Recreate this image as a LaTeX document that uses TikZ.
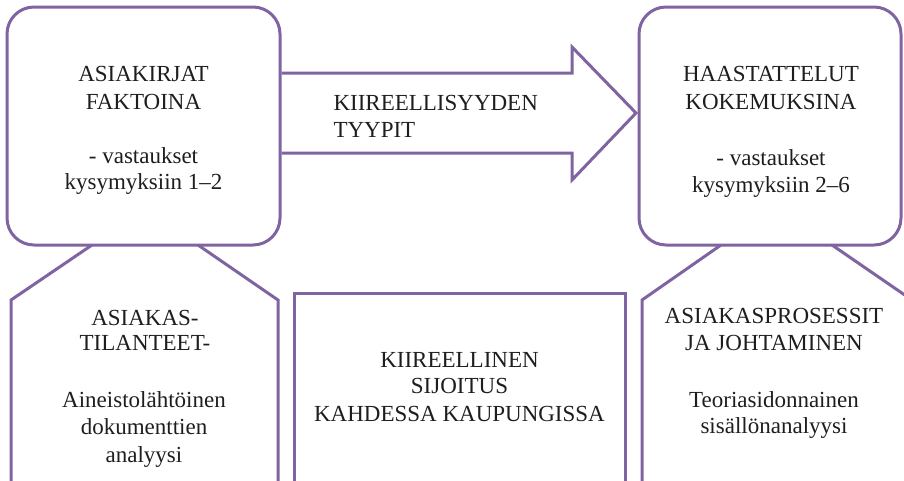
\documentclass[tikz,border=0pt]{standalone}
\usepackage{fontspec}
\setmainfont{Liberation Serif}
\definecolor{pur}{HTML}{8064A2}
\definecolor{ink}{HTML}{1E1E1E}
\begin{document}
\begin{tikzpicture}[x=1pt,y=-1pt,line width=3pt,
  roundbox/.style={draw=pur,fill=white,rounded corners=27pt,inner sep=0pt},
  plainbox/.style={draw=pur,inner sep=0pt},
  edge/.style={draw=pur,line join=miter},
  txt/.style={text=ink,font=\fontsize{23}{27}\selectfont,inner sep=0pt,anchor=base},
  txtl/.style={txt,anchor=base west}]
\useasboundingbox (0,0) rectangle (904,480);
% top boxes
\node[roundbox,minimum width=273pt,minimum height=238pt] (lbox) at (143.5,126) {};
\node[roundbox,minimum width=262pt,minimum height=238pt] (rbox) at (770,126) {};
% middle box (bottom outside the page)
\node[plainbox,minimum width=331pt,minimum height=210pt] (mbox) at (459.5,398) {};
% pentagon outlines under the top boxes
\coordinate (lp1) at (92,245);  \coordinate (lp2) at (11,300);  \coordinate (lp3) at (11,492);
\coordinate (lp4) at (198,245); \coordinate (lp5) at (278,300); \coordinate (lp6) at (278,492);
\coordinate (rp1) at (721,245); \coordinate (rp2) at (642,300); \coordinate (rp3) at (642,492);
\coordinate (rp4) at (832,245); \coordinate (rp5) at (912,300); \coordinate (rp6) at (912,492);
\draw[edge] (lp1) -- (lp2) -- (lp3);
\draw[edge] (lp4) -- (lp5) -- (lp6);
\draw[edge] (rp1) -- (rp2) -- (rp3);
\draw[edge] (rp4) -- (rp5) -- (rp6);
% block arrow
\coordinate (a0) at (lbox.east |- 0,73);
\coordinate (a1) at (572,73);
\coordinate (a2) at (572,47);
\coordinate (a3) at (636,113);
\coordinate (a4) at (572,180);
\coordinate (a5) at (572,153);
\coordinate (a6) at (lbox.east |- 0,153);
\draw[edge] (a0) -- (a1) -- (a2) -- (a3) -- (a4) -- (a5) -- (a6);
% texts: left box
\node[txt] (t1) at (143.5,81) {ASIAKIRJAT};
\node[txt] (t2) at (143.5,109) {FAKTOINA};
\node[txt] (t3) at (143.5,163) {- vastaukset};
\node[txt] (t4) at (143.5,189) {kysymyksiin 1–2};
% right box
\node[txt] (t5) at (771,81) {HAASTATTELUT};
\node[txt] (t6) at (771,109) {KOKEMUKSINA};
\node[txt] (t7) at (771,165) {- vastaukset};
\node[txt] (t8) at (771,192) {kysymyksiin 2–6};
% arrow text
\node[txtl] (t9) at (332,110) {KIIREELLISYYDEN};
\node[txtl] (t10) at (332,137) {TYYPIT};
% middle box
\node[txt] (t11) at (459.5,367) {KIIREELLINEN};
\node[txt] (t12) at (459.5,393) {SIJOITUS};
\node[txt] (t13) at (459.5,421) {KAHDESSA KAUPUNGISSA};
% left pentagon
\node[txt] (t14) at (145,325) {ASIAKAS-};
\node[txt] (t15) at (145,350) {TILANTEET-};
\node[txt] (t16) at (144,407) {Aineistolähtöinen};
\node[txt] (t17) at (144,434) {dokumenttien};
\node[txt] (t18) at (144,462) {analyysi};
% right pentagon
\node[txt] (t19) at (774,323) {ASIAKASPROSESSIT};
\node[txt] (t20) at (774,350) {JA JOHTAMINEN};
\node[txt] (t21) at (774,407) {Teoriasidonnainen};
\node[txt] (t22) at (774,433) {sisällönanalyysi};
\end{tikzpicture}
\end{document}
